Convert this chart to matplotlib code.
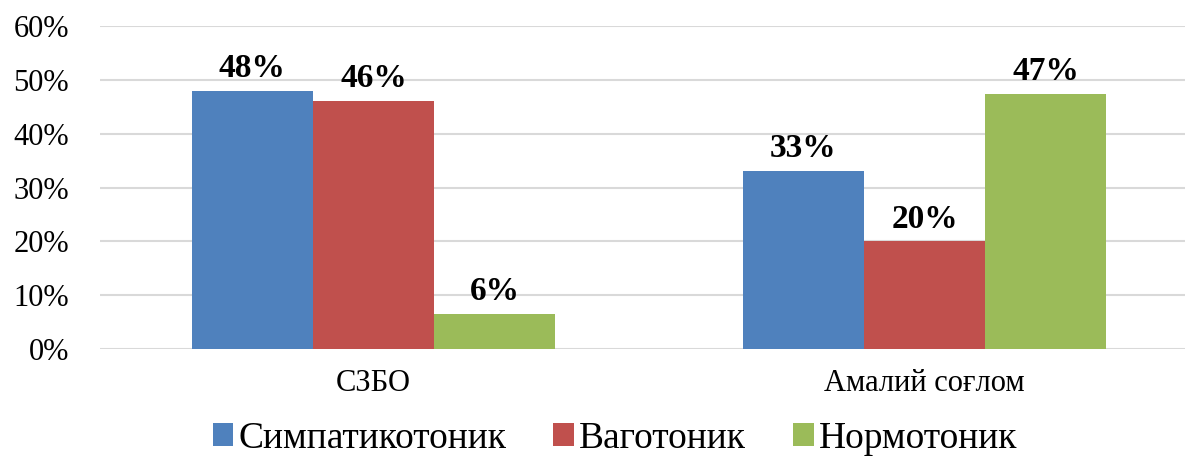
import matplotlib.pyplot as plt
import numpy as np

categories = ['СЗБО', 'Амалий соғлом']
series_names = ['Симпатикотоник', 'Ваготоник', 'Нормотоник']
simpat = [48, 33]
vagot = [46, 20]
normot = [6.6, 47.4]
simpat_labels = ['48%', '33%']
vagot_labels = ['46%', '20%']
normot_labels = ['6%', '47%']
yticks = [0, 10, 20, 30, 40, 50, 60]

colors = ['#4F81BD', '#C0504D', '#9BBB59']

plt.rcParams['font.family'] = ['Liberation Serif', 'DejaVu Serif']

fig = plt.figure(figsize=(11.87, 4.57), dpi=100)
ax = fig.add_axes([0.084, 0.236, 0.914, 0.707])

x = np.arange(len(categories))
width = 0.22
all_vals = [simpat, vagot, normot]
all_labels = [simpat_labels, vagot_labels, normot_labels]
offsets = [-0.22, 0, 0.22]

for vals, labs, off, col, name in zip(all_vals, all_labels, offsets, colors, series_names):
    bars = ax.bar(x + off, vals, width, color=col, label=name, zorder=3)
    for b, lab in zip(bars, labs):
        ax.annotate(lab, (b.get_x() + b.get_width() / 2, b.get_height()),
                    xytext=(0, 5), textcoords='offset points',
                    ha='center', va='bottom', fontsize=24, fontweight='bold')

ax.set_ylim(0, 60)
ax.set_xlim(-0.497, 1.472)
ax.set_yticks(yticks)
ax.set_yticklabels([f'{t}%' for t in yticks], fontsize=22)
ax.set_xticks(x)
ax.set_xticklabels(categories, fontsize=22)
ax.tick_params(length=0)
ax.tick_params(axis='x', pad=14)
ax.tick_params(axis='y', pad=22)
ax.grid(axis='y', color='#D9D9D9', linewidth=1.5, zorder=0)
for s in ax.spines.values():
    s.set_visible(False)

ax.legend(loc='center', bbox_to_anchor=(0.475, -0.276), ncol=3, frameon=False,
          fontsize=27, handlelength=0.55, handleheight=0.55, handletextpad=0.14,
          columnspacing=1.25, borderpad=0, borderaxespad=0)

fig.savefig('out.png', dpi=100)
